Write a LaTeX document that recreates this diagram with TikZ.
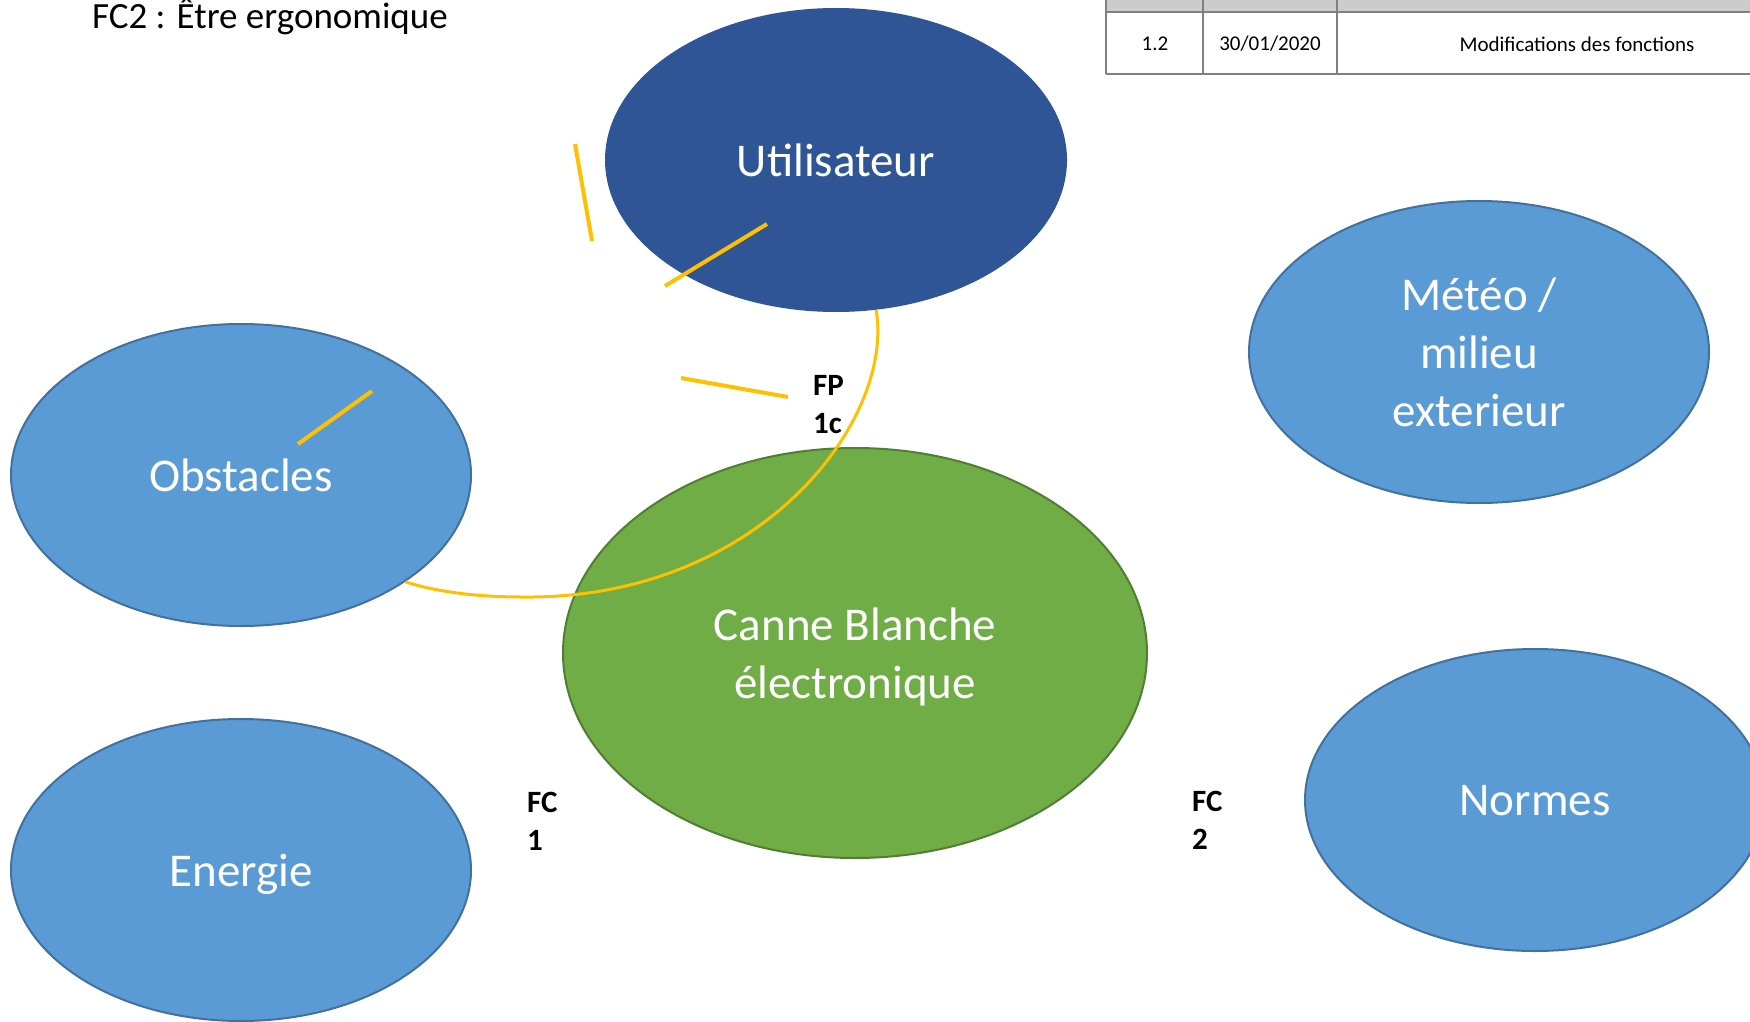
\documentclass[tikz,border=0pt]{standalone}
\usepackage{fontspec}
\setmainfont{Carlito}
\usepackage{tikz}
\usetikzlibrary{shapes.geometric}
\usepackage{xcolor}
\definecolor{fondbleu}{HTML}{5B9BD5}
\definecolor{bordbleu}{HTML}{41719C}
\definecolor{bleufonce}{HTML}{2F5597}
\definecolor{fondvert}{HTML}{70AD47}
\definecolor{bordvert}{HTML}{507E32}
\definecolor{jaune}{HTML}{FFC000}
\definecolor{grille}{HTML}{808080}

\begin{document}
\begin{tikzpicture}[x=1pt, y=-1pt,
  milieu/.style={ellipse, draw=bordbleu, line width=2pt, fill=fondbleu, text=white,
    minimum width=460pt, minimum height=302pt, inner sep=0pt, align=center, text depth=0pt,
    font=\fontsize{47}{58}\selectfont},
  fonction/.style={font=\bfseries\fontsize{31}{38}\selectfont, align=left, inner sep=0pt},
  trait/.style={jaune, line width=4pt},
  cellule/.style={font=\fontsize{21}{25}\selectfont, inner sep=0pt}]
  \clip (0,0) rectangle (1750,1022);
  \fill[white] (0,0) rectangle (1750,1022);
  \node[anchor=base west, inner sep=0pt, font=\fontsize{37}{44}\selectfont] (titre) at (92,29) {FC2 : Être ergonomique};
  \fill[gray!40] (1106,-5) rectangle (1760,12);
  \draw[grille, line width=1.2pt] (1106,12) -- (1760,12) (1106,74) -- (1760,74);
  \draw[grille, line width=1.2pt] (1106,-5) -- (1106,74) (1203,-5) -- (1203,74) (1337,-5) -- (1337,74);
  \node[cellule] (version) at (1155,44) {1.2};
  \node[cellule] (date) at (1270,44) {30/01/2020};
  \node[cellule] (objet) at (1577,44) {Modifications des fonctions};
  \node[milieu, draw=bleufonce, fill=bleufonce] (util) at (836,160) {Utilisateur};
  \node[milieu] (obst) at (241,475) {Obstacles};
  \node[milieu] (meteo) at (1479,352) {Météo /\\milieu\\exterieur};
  \node[milieu] (energie) at (241,870) {Energie};
  \node[milieu] (normes) at (1535,800) {Normes};
  \node[milieu, draw=bordvert, fill=fondvert, minimum width=584pt, minimum height=410pt] (canne) at (855,653) {Canne Blanche\\électronique};
  \draw[trait, line width=3pt] (util.-75) .. controls (895,420) and (760,600) .. (522,597)
    .. controls (470,597) and (430,590) .. (obst.-33);
  \draw[trait] (575,144) -- (592,241);
  \draw[trait] (665,286) -- (767,224);
  \draw[trait] (681,378) -- (788,397);
  \draw[trait] (298,444) -- (372,391);
  \node[fonction, anchor=base west] (fp1c) at (813,433) {FP\\1c};
  \node[fonction, anchor=base west] (fc1) at (527,850) {FC\\1};
  \node[fonction, anchor=base west] (fc2) at (1192,849) {FC\\2};
\end{tikzpicture}
\end{document}
